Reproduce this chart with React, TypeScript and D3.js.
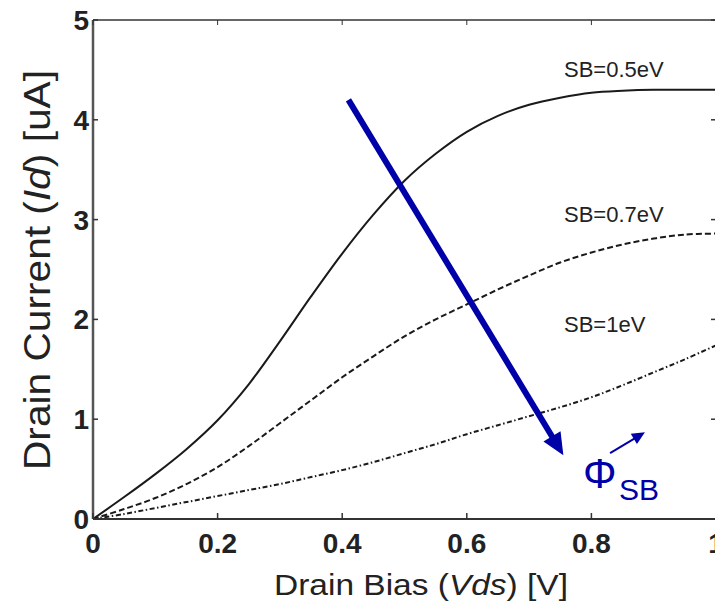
import React from "react";
import * as d3 from "d3";

const vds = [0, 0.05, 0.1, 0.15, 0.2, 0.25, 0.3, 0.35, 0.4, 0.45, 0.5, 0.55, 0.6, 0.65, 0.7, 0.75, 0.8, 0.85, 0.9, 0.95, 1.0];
const idSB05 = [0, 0.22, 0.45, 0.7, 0.99, 1.35, 1.78, 2.23, 2.66, 3.05, 3.39, 3.66, 3.88, 4.04, 4.15, 4.22, 4.27, 4.29, 4.3, 4.3, 4.3];
const idSB07 = [0, 0.1, 0.21, 0.35, 0.52, 0.73, 0.96, 1.19, 1.42, 1.63, 1.83, 2.0, 2.15, 2.3, 2.44, 2.57, 2.67, 2.75, 2.81, 2.85, 2.86];
const idSB10 = [0, 0.05, 0.11, 0.17, 0.23, 0.29, 0.35, 0.42, 0.49, 0.57, 0.66, 0.75, 0.85, 0.94, 1.03, 1.12, 1.22, 1.34, 1.47, 1.6, 1.74];

const xTicks = [0, 0.2, 0.4, 0.6, 0.8, 1];
const xTickLabels = ["0", "0.2", "0.4", "0.6", "0.8", "1"];
const yTicks = [0, 1, 2, 3, 4, 5];
const yTickLabels = ["0", "1", "2", "3", "4", "5"];

const seriesNames = ["SB=0.5eV", "SB=0.7eV", "SB=1eV"];
const seriesData = [idSB05, idSB07, idSB10];
const seriesDash = ["none", "6,3", "5,2.5,1.5,2.5"];
const labelAnchorValue = [4.3, 2.86, 1.74];

const arrowStart = [0.41, 4.2];
const arrowEnd = [0.755, 0.64];
const smallArrowStart = [0.83, 0.66];
const smallArrowEnd = [0.886, 0.87];

const BLUE = "#0000a8";
const FONT = "'Liberation Sans', Arial, Helvetica, sans-serif";

export default function App() {
  const W = 715, H = 603;
  const x = d3.scaleLinear().domain([0, 1]).range([93, 716]);
  const y = d3.scaleLinear().domain([0, 5]).range([519, 20]);

  const line = d3
    .line<[number, number]>()
    .x((d) => x(d[0]))
    .y((d) => y(d[1]))
    .curve(d3.curveCatmullRom.alpha(0.5));

  const arrowHead = (x1: number, y1: number, x2: number, y2: number, len: number, half: number) => {
    const dx = x2 - x1, dy = y2 - y1;
    const L = Math.hypot(dx, dy);
    const ux = dx / L, uy = dy / L;
    const bx = x2 - ux * len, by = y2 - uy * len;
    const px = -uy, py = ux;
    return `M${x2},${y2}L${bx + px * half},${by + py * half}L${bx - px * half},${by - py * half}Z`;
  };

  const ax1 = x(arrowStart[0]), ay1 = y(arrowStart[1]);
  const ax2 = x(arrowEnd[0]), ay2 = y(arrowEnd[1]);
  const aL = Math.hypot(ax2 - ax1, ay2 - ay1);
  const shaft = 16 / aL;
  const sx1 = x(smallArrowStart[0]), sy1 = y(smallArrowStart[1]);
  const sx2 = x(smallArrowEnd[0]), sy2 = y(smallArrowEnd[1]);
  const sL = Math.hypot(sx2 - sx1, sy2 - sy1);
  const sShaft = 10 / sL;

  return (
    <svg width={W} height={H} style={{ position: "absolute", left: 0, top: 0, background: "#fff" }}>
      <rect x={0} y={0} width={W} height={H} fill="#fff" />
      {seriesData.map((s, i) => (
        <path
          key={i}
          d={line(vds.map((v, j) => [v, s[j]] as [number, number])) || ""}
          fill="none"
          stroke="#1a1a1a"
          strokeWidth={2}
          strokeDasharray={seriesDash[i]}
        />
      ))}
      <line x1={x(0)} y1={y(0)} x2={x(0)} y2={y(5)} stroke="#555" strokeWidth={2.5} />
      <line x1={x(0)} y1={y(0)} x2={x(1)} y2={y(0)} stroke="#333" strokeWidth={2} />
      <line x1={x(0)} y1={y(5)} x2={x(1)} y2={y(5)} stroke="#333" strokeWidth={1.5} />
      <line x1={x(1)} y1={y(0)} x2={x(1)} y2={y(5)} stroke="#333" strokeWidth={1.5} />
      {xTicks.map((t, i) => (
        <g key={"xt" + i}>
          <line x1={x(t)} x2={x(t)} y1={y(0)} y2={y(0) - 6} stroke="#333" strokeWidth={1.5} />
          <line x1={x(t)} x2={x(t)} y1={y(5)} y2={y(5) + 5} stroke="#333" strokeWidth={1} />
          <text x={x(t)} y={553} textAnchor="middle" fontFamily={FONT} fontWeight="bold" fontSize={28} fill="#222">
            {xTickLabels[i]}
          </text>
        </g>
      ))}
      {yTicks.map((t, i) => (
        <g key={"yt" + i}>
          <line x1={x(0)} x2={x(0) + 5} y1={y(t)} y2={y(t)} stroke="#333" strokeWidth={1.5} />
          <line x1={x(1)} x2={x(1) - 5} y1={y(t)} y2={y(t)} stroke="#333" strokeWidth={1.5} />
          <text x={89} y={y(t) + 10} textAnchor="end" fontFamily={FONT} fontWeight="bold" fontSize={28} fill="#222">
            {yTickLabels[i]}
          </text>
        </g>
      ))}
      <text x={274} y={595} fontFamily={FONT} fontSize={30} fill="#222" textLength={294} lengthAdjust="spacingAndGlyphs">
        Drain Bias (<tspan fontStyle="italic">Vds</tspan>) [V]
      </text>
      <text
        transform={`translate(50,470) rotate(-90)`}
        x={0}
        y={0}
        fontFamily={FONT}
        fontSize={37}
        fill="#222"
        textLength={400}
        lengthAdjust="spacingAndGlyphs"
      >
        Drain Current (<tspan fontStyle="italic">Id</tspan>) [uA]
      </text>
      {seriesNames.map((n, i) => (
        <text key={"sl" + i} x={564} y={y(labelAnchorValue[i]) - [13, 12, 13][i]} fontFamily={FONT} fontSize={22} fill="#222">
          {n}
        </text>
      ))}
      <line
        x1={ax1}
        y1={ay1}
        x2={ax2 - (ax2 - ax1) * shaft}
        y2={ay2 - (ay2 - ay1) * shaft}
        stroke={BLUE}
        strokeWidth={6}
      />
      <path d={arrowHead(ax1, ay1, ax2, ay2, 22, 10)} fill={BLUE} />
      <line
        x1={sx1}
        y1={sy1}
        x2={sx2 - (sx2 - sx1) * sShaft}
        y2={sy2 - (sy2 - sy1) * sShaft}
        stroke={BLUE}
        strokeWidth={2}
      />
      <path d={arrowHead(sx1, sy1, sx2, sy2, 13, 6)} fill={BLUE} />
      <text x={583} y={488} fontFamily={FONT} fontSize={42} fill={BLUE}>
        Φ
      </text>
      <text x={619} y={500} fontFamily={FONT} fontSize={30} fill={BLUE}>
        SB
      </text>
    </svg>
  );
}
